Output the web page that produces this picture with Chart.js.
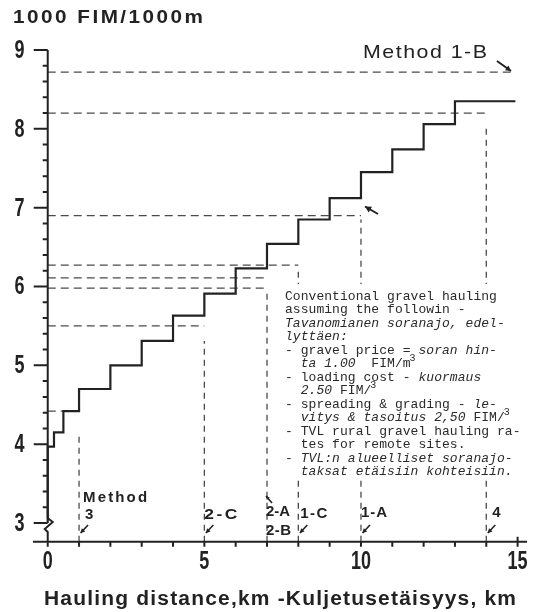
<!DOCTYPE html>
<html>
<head>
<meta charset="utf-8">
<script src="https://cdn.jsdelivr.net/npm/chart.js@4.4.1/dist/chart.umd.min.js"></script>
<style>
  html, body { margin: 0; padding: 0; background: #fff; }
  canvas { display: block; }
</style>
</head>
<body>
<canvas id="chart" width="540" height="612"></canvas>
<script>
// Conventional hauling cost, 1000 FIM per 1000 m, stepped by distance (km)
const stepDistance = [0, 0, 0.2, 0.5, 1, 2, 3, 4, 5, 6, 7, 8, 9, 10, 11, 12, 13, 14, 14.93];
const stepCost = [3.0, 3.61, 3.97, 4.15, 4.42, 4.70, 5.00, 5.31, 5.63, 5.91, 6.23, 6.54, 6.85, 7.12, 7.45, 7.74, 8.06, 8.35, 8.35];

// dashed read-off lines for the methods
const guideCost = [8.72, 8.20, 6.90, 6.27, 6.11, 5.98, 5.50, 4.42];
const guideEnd = [14.93, 14, 10, 8, 7, 7, 5, 1];
const dropDistance = [1, 5, 7, 8, 10, 14];
const dropTop = [4.15, 5.31, 5.91, 6.23, 6.85, 8.06];
const methodLabels = [['Method', '3'], ['2-C'], ['2-A', '2-B'], ['1-C'], ['1-A'], ['4']];

const xTickValues = [0, 5, 10, 15];
const xTickLabels = ['0', '5', '10', '15'];
const yTickValues = [3, 4, 5, 6, 7, 8, 9];
const yTickLabels = ['3', '4', '5', '6', '7', '8', '9'];

const noteLines = [
    'Conventional gravel hauling',
    'assuming the followin -',
    '*Tavanomianen soranajo, edel-',
    '*lyttäen:',
    '- gravel price = *soran hin-',
    '  *ta 1.00*  FIM/m^3',
    '- loading cost - *kuormaus',
    '  *2.50* FIM/^3',
    '- spreading & grading - *le-',
    '  *vitys & tasoitus 2,50* FIM/^3',
    '- TVL rural gravel hauling ra-',
    '  tes for remote sites.',
    '- *TVL:n alueelliset soranajo-',
    '  *taksat etäisiin kohteisiin.'
];

const X_MIN = -0.47, X_MAX = 15.3, Y_MIN = 2.763, Y_MAX = 9;
const INK = '#222';
const DASH = '#4a4a4a';

// fit text into a width: widen the letters first, then spread them a little
function spaced(ctx, text, x, y, width, maxGap = 1.5) {
    const chars = [...text];
    const natural = ctx.measureText(text).width;
    const n = chars.length;
    let sx = (width - (n - 1) * maxGap) / natural;
    if (n === 1 || sx < 1) sx = Math.min(1, width / natural);
    const gap = n > 1 ? Math.max(0, (width - natural * sx) / (n - 1)) : 0;
    ctx.save();
    ctx.translate(x, y);
    ctx.scale(sx, 1);
    let cx = 0;
    chars.forEach(ch => { ctx.fillText(ch, cx, 0); cx += ctx.measureText(ch).width + gap / sx; });
    ctx.restore();
}

function narrow(ctx, text, cx, cy, sx) {
    ctx.save();
    ctx.translate(cx, cy); ctx.scale(sx, 1);
    ctx.textAlign = 'center';
    ctx.fillText(text, 0, 0);
    ctx.restore();
}

function arrow(ctx, x1, y1, x2, y2, head) {
    const a = Math.atan2(y2 - y1, x2 - x1);
    ctx.beginPath();
    ctx.moveTo(x1, y1); ctx.lineTo(x2, y2); ctx.stroke();
    ctx.beginPath();
    ctx.moveTo(x2, y2);
    ctx.lineTo(x2 - head * Math.cos(a - 0.5), y2 - head * Math.sin(a - 0.5));
    ctx.lineTo(x2 - head * Math.cos(a + 0.5), y2 - head * Math.sin(a + 0.5));
    ctx.closePath(); ctx.fill();
}

function drawNote(ctx) {
    ctx.fillStyle = '#fff';
    ctx.fillRect(280, 284, 252, 195);
    ctx.fillStyle = '#2a2a2a';
    ctx.textAlign = 'left';
    ctx.textBaseline = 'alphabetic';
    noteLines.forEach((line, i) => {
        const base = 299.5 + i * 13.5;
        let italic = false, col = 0;
        for (let j = 0; j < line.length; j++) {
            const ch = line[j];
            if (ch === '*') { italic = !italic; continue; }
            if (ch === '^') {
                j++;
                ctx.font = '10px "Liberation Mono"';
                ctx.fillText(line[j], 285 + col * 7.85 - 1, base - 6);
                col++;
                continue;
            }
            ctx.font = (italic ? 'italic ' : '') + '13px "Liberation Mono"';
            ctx.fillText(ch, 285 + col * 7.85, base);
            col++;
        }
    });
}

const scanPlugin = {
    id: 'scanAxes',
    afterDatasetsDraw(chart) {
        const { ctx, scales: { x, y } } = chart;
        const x0 = x.getPixelForValue(0);
        const yb = y.getPixelForValue(Y_MIN);
        const y3 = y.getPixelForValue(3);
        ctx.save();
        ctx.strokeStyle = INK;
        ctx.fillStyle = INK;
        ctx.lineWidth = 2;

        // x axis and km ticks
        ctx.beginPath();
        ctx.moveTo(x.left, yb); ctx.lineTo(x.right, yb);
        for (let k = 0; k <= 15; k++) {
            const px = x.getPixelForValue(k);
            ctx.moveTo(px, yb); ctx.lineTo(px, yb + 5);
        }
        const p15 = x.getPixelForValue(15);
        ctx.moveTo(p15, yb); ctx.lineTo(p15, yb - 5);
        ctx.stroke();

        // y axis with break near 3
        ctx.beginPath();
        ctx.moveTo(x0, y.getPixelForValue(Y_MAX));
        ctx.lineTo(x0, y3 - 5);
        ctx.lineTo(x0 + 5, y3 - 1);
        ctx.lineTo(x0 - 3, y3 + 6);
        ctx.lineTo(x0, y3 + 9);
        ctx.lineTo(x0, yb);
        yTickValues.forEach(v => {
            const py = y.getPixelForValue(v);
            ctx.moveTo(x0 - 14, py); ctx.lineTo(x0, py);
        });
        for (let k = 16; k < 45; k++) {
            if (k % 5 === 0) continue;
            const py = y.getPixelForValue(k / 5);
            ctx.moveTo(x0 - 5, py); ctx.lineTo(x0, py);
        }
        ctx.stroke();

        // tick labels
        ctx.font = 'bold 25px "Liberation Sans"';
        ctx.textBaseline = 'middle';
        yTickValues.forEach((v, i) => narrow(ctx, yTickLabels[i], 19.5, y.getPixelForValue(v) + 1, 0.72));
        xTickValues.forEach((v, i) => narrow(ctx, xTickLabels[i], x.getPixelForValue(v), 562, 0.72));

        drawNote(ctx);

        // method labels and their arrows
        ctx.fillStyle = INK;
        ctx.strokeStyle = INK;
        ctx.lineWidth = 1.6;
        ctx.textAlign = 'left';
        ctx.textBaseline = 'middle';
        const place = [
            { dx: 4, rows: [[497.5, 64, 'bold 15px'], [515, 9, 'bold 15px']] },
            { dx: 0, rows: [[515, 33, 'bold 15px']] },
            { dx: -1, rows: [[512, 24, 'bold 15px'], [531, 25, 'bold 15px']] },
            { dx: 2, rows: [[514, 27, 'bold 15px']] },
            { dx: 0, rows: [[512.5, 26, 'bold 15px']] },
            { dx: 6, rows: [[512.5, 9, 'bold 15px']] }
        ];
        dropDistance.forEach((d, i) => {
            const px = x.getPixelForValue(d);
            methodLabels[i].forEach((txt, r) => {
                const [cy, w, f] = place[i].rows[r];
                const lx = px + place[i].dx + (i === 0 && r === 1 ? 2 : 0);
                ctx.font = f + ' "Liberation Sans"';
                spaced(ctx, txt, lx, cy, w, 2.5);
            });
            if (i !== 2) arrow(ctx, px + 9, 525, px + 1.5, 533, 5);
        });
        const p7 = x.getPixelForValue(7);
        arrow(ctx, p7 + 5, 503, p7 - 1, 496, 4);

        // pointer at the 10 km step and the 1-B line
        ctx.lineWidth = 2;
        arrow(ctx, 378, 214, 365, 206.5, 7);
        arrow(ctx, 497, 61, 511, 71, 6);

        // titles
        ctx.font = 'bold 18px "Liberation Sans"';
        spaced(ctx, '1000 FIM/1000m', 13, 18.5, 190, 2.5);
        ctx.font = '19px "Liberation Sans"';
        spaced(ctx, 'Method 1-B', 363, 52.5, 124, 1.5);
        ctx.font = 'bold 20px "Liberation Sans"';
        spaced(ctx, 'Hauling distance,km -Kuljetusetäisyys, km', 44, 599, 472, 1.2);
        ctx.restore();
    }
};

const stepDataset = {
    data: stepDistance.map((d, i) => ({ x: d, y: stepCost[i] })),
    stepped: 'after',
    borderColor: INK,
    borderWidth: 2.2,
    pointRadius: 0
};

const guideDatasets = guideCost.map((c, i) => ({
    data: [{ x: 0, y: c }, { x: guideEnd[i], y: c }],
    borderColor: DASH,
    borderWidth: 1.3,
    borderDash: [8, 5],
    pointRadius: 0
}));

const dropDatasets = dropDistance.map((d, i) => ({
    data: [{ x: d, y: Y_MIN }, { x: d, y: dropTop[i] }],
    borderColor: DASH,
    borderWidth: 1.3,
    borderDash: [6, 5],
    pointRadius: 0
}));

new Chart(document.getElementById('chart'), {
    type: 'line',
    data: { datasets: [stepDataset, ...guideDatasets, ...dropDatasets] },
    options: {
        responsive: false,
        animation: false,
        devicePixelRatio: 1,
        events: [],
        layout: { padding: { left: 33, right: 13, top: 50, bottom: 70.3 } },
        scales: {
            x: { type: 'linear', min: X_MIN, max: X_MAX, display: false },
            y: { type: 'linear', min: Y_MIN, max: Y_MAX, display: false }
        },
        plugins: { legend: { display: false }, tooltip: { enabled: false } },
        elements: { line: { tension: 0 } }
    },
    plugins: [scanPlugin]
});
</script>
</body>
</html>
